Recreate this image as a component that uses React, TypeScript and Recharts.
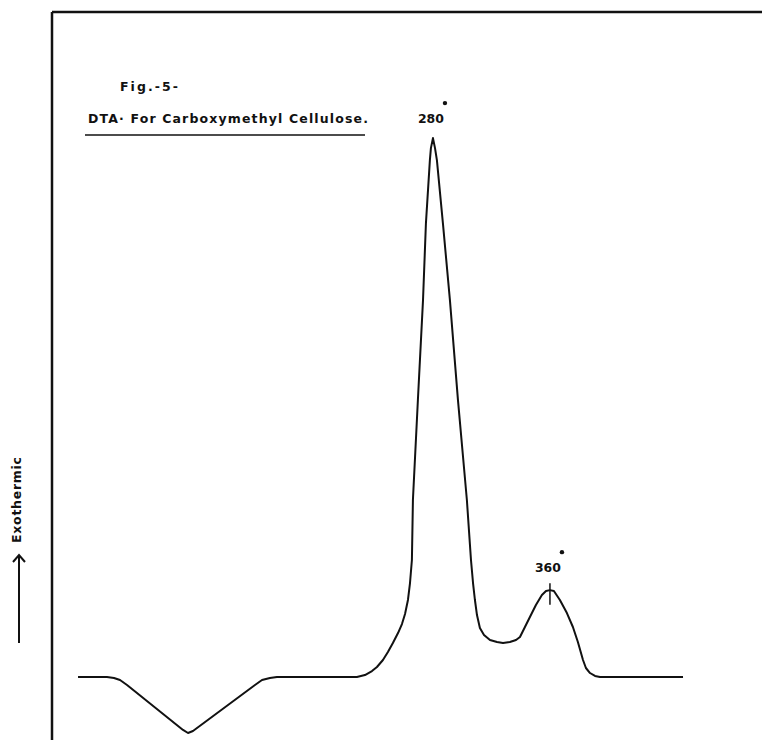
import { LineChart, Line, XAxis, YAxis, ReferenceLine, ReferenceDot } from 'recharts';

// temperature (°C) along the trace and the DTA signal (arbitrary units, baseline = 0)
const TEMPS = [
  37.3, 57.1, 61.9, 66.0, 70.8, 109.1, 112.5, 115.9, 158.3, 163.1, 168.5, 173.3,
  228, 233.5, 238.3, 241.7, 245.8, 249.2, 252.6, 256.1, 258.8, 260.9, 262.9, 264.3, 265.6,
  266.3, 269.7, 273.2, 275.2, 277.9, 278.6, 280, 281.4, 282.7, 286.8, 291.6, 297.1, 303.2,
  306, 307.4, 308.7, 310.1, 312.1, 314.9, 319, 323.8, 327.9, 332.6, 336.8, 339.5, 342.9,
  346.3, 350.4, 354.5, 357.3, 360, 362.7, 366.8, 371.6, 375.7, 379.1, 382.6, 384.6, 387.4,
  390.8, 394.2, 451,
];
const SIGNAL = [
  0, 0, -0.19, -0.56, -1.48, -9.83, -10.39, -10.02, -1.48, -0.56, -0.19, 0,
  0, 0.37, 1.11, 1.86, 3.15, 4.64, 6.31, 8.16, 9.83, 11.69, 14.29, 17.44, 21.71,
  32.84, 51.39, 69.94, 84.23, 95.92, 98.14, 100, 98.14, 95.92, 84.23, 69.94, 51.39, 32.84,
  21.71, 17.44, 14.29, 11.5, 9.09, 7.79, 6.86, 6.49, 6.31, 6.49, 6.86, 7.42, 9.28,
  11.13, 13.36, 15.21, 15.96, 16.12, 15.96, 14.29, 11.87, 9.28, 6.49, 3.15, 1.67, 0.74,
  0.19, 0, 0,
];
const PEAKS = [
  { t: 280, v: 100, label: '280' },
  { t: 360, v: 16.12, label: '360' },
];

const X_DOMAIN: [number, number] = [19.5, 505];
const Y_DOMAIN: [number, number] = [-11.69, 123.4];
const INK = '#111';
const FONT = '"DejaVu Sans", sans-serif';

const data = TEMPS.map((t, i) => ({ t, v: SIGNAL[i] }));

const PeakLabel = (props: any) => {
  const { viewBox, value } = props;
  const cx = viewBox.x;
  const cy = viewBox.y;
  const lift = value === '280' ? 15 : 18;
  return (
    <g>
      <text x={cx - 2} y={cy - lift} textAnchor="middle" fontFamily={FONT} fontSize={12} fontWeight={600}
        fill={INK} textLength={26} lengthAdjust="spacingAndGlyphs">
        {value}
      </text>
      <circle cx={cx + 12} cy={cy - lift - 20} r={2.2} fill={INK} />
    </g>
  );
};

export default function App() {
  return (
    <div style={{ position: 'absolute', left: 0, top: 0, width: 762, height: 740, background: '#fff' }}>
      <LineChart width={762} height={740} data={data} margin={{ top: 12, right: 0, bottom: 0, left: 52 }}>
        <XAxis dataKey="t" type="number" domain={X_DOMAIN} hide allowDataOverflow />
        <YAxis type="number" domain={Y_DOMAIN} hide allowDataOverflow />
        <ReferenceLine x={X_DOMAIN[0]} stroke={INK} strokeWidth={2.5} />
        <ReferenceLine y={Y_DOMAIN[1]} stroke={INK} strokeWidth={2.5} />
        <ReferenceLine segment={[{ x: 360, y: 13.4 }, { x: 360, y: 17.4 }]} stroke={INK} strokeWidth={1.5} />
        <Line type="linear" dataKey="v" stroke={INK} strokeWidth={2} strokeLinejoin="round" dot={false}
          isAnimationActive={false} />
        {PEAKS.map((p) => (
          <ReferenceDot key={p.label} x={p.t} y={p.v} r={0} label={<PeakLabel value={p.label} />} />
        ))}
      </LineChart>
      <svg width={762} height={740} style={{ position: 'absolute', left: 0, top: 0, pointerEvents: 'none' }}>
        <text x={120} y={91} fontFamily={FONT} fontSize={12.5} fontWeight={600} fill={INK} textLength={58}
          lengthAdjust="spacing">
          Fig.-5-
        </text>
        <text x={88} y={123} fontFamily={FONT} fontSize={12.5} fontWeight={600} fill={INK} textLength={280}
          lengthAdjust="spacing">
          DTA· For Carboxymethyl Cellulose.
        </text>
        <line x1={85} y1={135} x2={365} y2={135} stroke={INK} strokeWidth={1.5} />
        <text x={0} y={0} transform="translate(21,500) rotate(-90)" textAnchor="middle" fontFamily={FONT}
          fontSize={12.5} fontWeight={600} fill={INK} textLength={86} lengthAdjust="spacing">
          Exothermic
        </text>
        <line x1={19} y1={556} x2={19} y2={643} stroke={INK} strokeWidth={2} />
        <polyline points="13,562 19,555 25,562" fill="none" stroke={INK} strokeWidth={2} />
      </svg>
    </div>
  );
}
